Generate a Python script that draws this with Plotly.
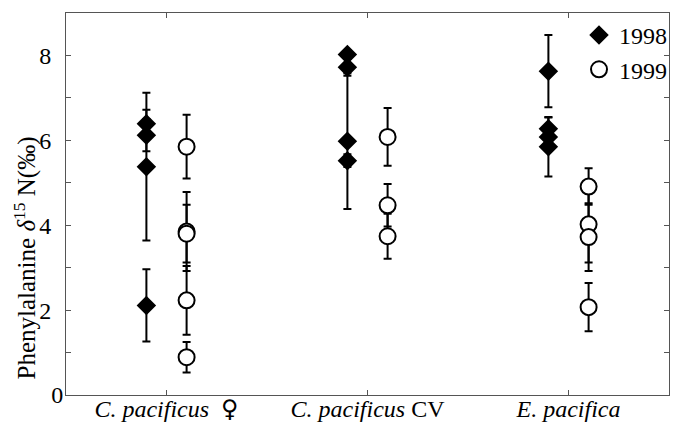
import plotly.graph_objects as go

# ---- data ----
categories = ["<i>C. pacificus</i>  <span style=\"font-family:'DejaVu Sans'\">♀</span>",
              "<i>C. pacificus</i> CV", "<i>E. pacifica</i>"]
cat_pos = [1, 2, 3]

x_1998 = [0.9, 0.9, 0.9, 0.9, 1.9, 1.9, 1.9, 1.9, 2.9, 2.9, 2.9, 2.9]
y_1998 = [6.39, 6.12, 5.38, 2.11, 8.02, 7.72, 5.98, 5.52, 7.63, 6.27, 6.08, 5.85]
e_1998 = [0.33, 0.38, 1.74, 0.85, 0.10, 0.20, 1.60, 0.15, 0.85, 0.27, 0.15, 0.70]

x_1999 = [1.1, 1.1, 1.1, 1.1, 1.1, 2.1, 2.1, 2.1, 3.1, 3.1, 3.1, 3.1]
y_1999 = [5.85, 3.85, 3.80, 2.23, 0.89, 6.08, 4.47, 3.74, 4.91, 4.02, 3.72, 2.07]
e_1999 = [0.75, 0.93, 0.68, 0.81, 0.36, 0.68, 0.50, 0.53, 0.43, 0.90, 0.80, 0.57]

y_tickvals = [0, 1, 2, 3, 4, 5, 6, 7, 8]
NB = "\u00a0\u00a0"
y_ticktext = ["0", "", "2" + NB, "", "4" + NB, "", "6" + NB, "", "8" + NB]

y_title = "Phenylalanine <i>δ</i><sup>15</sup> N(‰)"

FONT = "Liberation Serif, Times New Roman, serif"

fig = go.Figure()
fig.add_trace(go.Scatter(
    x=x_1998, y=y_1998, mode="markers", name="1998",
    marker=dict(symbol="diamond", size=15, color="black", line=dict(width=0)),
    error_y=dict(type="data", array=e_1998, color="black", thickness=2, width=4),
))
fig.add_trace(go.Scatter(
    x=x_1999, y=y_1999, mode="markers", name="1999",
    marker=dict(symbol="circle", size=16, color="white", line=dict(width=2, color="black")),
    error_y=dict(type="data", array=e_1999, color="black", thickness=2, width=4),
))

fig.add_annotation(
    text=y_title, textangle=-90, xref="paper", yref="paper",
    x=-0.068, y=0.36, xanchor="center", yanchor="middle", showarrow=False,
    font=dict(family=FONT, size=25, color="black"),
)

fig.update_layout(
    width=676, height=425,
    margin=dict(l=66, r=4, t=13, b=30),
    paper_bgcolor="white", plot_bgcolor="white",
    font=dict(family=FONT, color="black", size=24),
    showlegend=True,
    legend=dict(x=1.005, y=1.0, xanchor="right", yanchor="top", bgcolor="rgba(0,0,0,0)",
                font=dict(family=FONT, size=24), itemwidth=30, tracegroupgap=0),
    xaxis=dict(range=[0.5, 3.5], tickmode="array", tickvals=cat_pos, ticktext=categories,
               showline=True, linecolor="#555", linewidth=1, mirror="ticks",
               ticks="inside", ticklen=5, tickcolor="#555", showgrid=False, zeroline=False,
               tickfont=dict(family=FONT, size=24), automargin=False, ticklabelstandoff=-8),
    yaxis=dict(range=[0, 9], tickmode="array", tickvals=y_tickvals, ticktext=y_ticktext,
               showline=True, linecolor="#555", linewidth=1, mirror="ticks",
               ticks="inside", ticklen=5, tickcolor="#555", showgrid=False, zeroline=False,
               tickfont=dict(family=FONT, size=24), automargin=False, ticklabelstandoff=-3),
)

fig.write_html("out.html")
